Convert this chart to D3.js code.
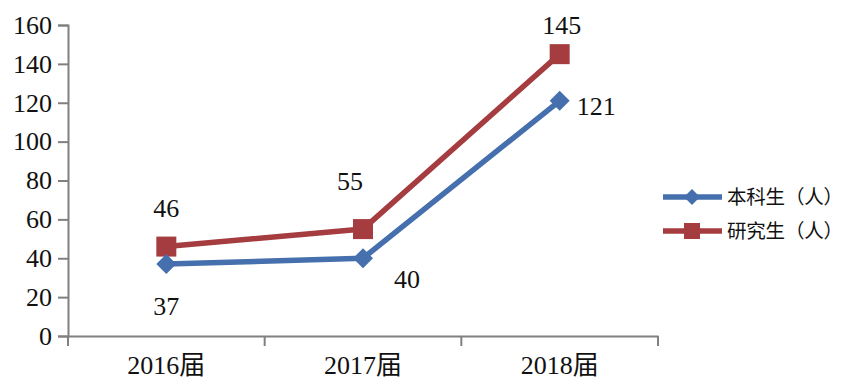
<!DOCTYPE html>
<html><head><meta charset="utf-8">
<script src="https://cdn.jsdelivr.net/npm/d3@7"></script>
<style>body{margin:0;background:#fff}svg{display:block}</style>
</head><body><svg id="c" width="848" height="381"></svg>
<script>
const categories = ["2016届", "2017届", "2018届"];
const undergrad = [37, 40, 121];
const graduate = [46, 55, 145];
const seriesNames = ["本科生（人）", "研究生（人）"];
const yTicks = [0, 20, 40, 60, 80, 100, 120, 140, 160];

const svg = d3.select("#c");
const serif = "'Liberation Serif','Times New Roman','Noto Sans CJK SC',serif";
const axisColor = "#808080";
const blue = "#4570ad", red = "#a53c40";

const x = d3.scaleBand().domain(categories).range([68, 658]);
const y = d3.scaleLinear().domain([0, 160]).range([336, 25]);
const cx = c => x(c) + x.bandwidth() / 2;

// Y axis
const ya = svg.append("g").attr("transform", "translate(68,0)")
  .call(d3.axisLeft(y).tickValues(yTicks).tickSize(10).tickPadding(6));
ya.select(".domain").attr("stroke", axisColor).attr("stroke-width", 2);
ya.selectAll(".tick line").attr("stroke", axisColor).attr("stroke-width", 2);
ya.selectAll(".tick text").attr("font-family", serif).attr("font-size", 26).attr("fill", "#111");

// X axis
const xa = svg.append("g").attr("transform", "translate(0,336)")
  .call(d3.axisBottom(x).tickSize(0).tickPadding(15));
xa.select(".domain").attr("stroke", axisColor).attr("stroke-width", 2);
xa.selectAll(".tick text").attr("font-family", serif).attr("font-size", 26).attr("fill", "#111").attr("dy", "0.9em");
// x band boundary ticks
const bounds = categories.map(c => x(c)).concat([x(categories[categories.length-1]) + x.bandwidth()]);
svg.append("g").selectAll("line").data(bounds).join("line")
  .attr("x1", d => d).attr("x2", d => d).attr("y1", 336).attr("y2", 346)
  .attr("stroke", axisColor).attr("stroke-width", 2);

const line = d3.line().x((d, i) => cx(categories[i])).y(d => y(d));

const diamond = d3.symbol().type(d3.symbolSquare).size(200);
function drawSeries(vals, color, kind) {
  svg.append("path").datum(vals).attr("d", line).attr("fill", "none")
    .attr("stroke", color).attr("stroke-width", 5.5).attr("stroke-linejoin", "round");
  const g = svg.append("g");
  vals.forEach((v, i) => {
    if (kind === "square") {
      g.append("rect").attr("x", cx(categories[i]) - 10).attr("y", y(v) - 10)
        .attr("width", 20).attr("height", 20).attr("fill", color);
    } else {
      g.append("path").attr("d", diamond)
        .attr("transform", `translate(${cx(categories[i])},${y(v)}) rotate(45)`).attr("fill", color);
    }
  });
}
drawSeries(graduate, red, "square");
drawSeries(undergrad, blue, "diamond");

// Data labels (offsets relative to data point)
const labelOffsets = {
  grad: [[0, -30], [-13, -39], [2, -20]],
  under: [[0, 51], [44, 30], [17, 14]]
};
function drawLabels(vals, offs, anchors) {
  vals.forEach((v, i) => {
    svg.append("text").attr("x", cx(categories[i]) + offs[i][0]).attr("y", y(v) + offs[i][1])
      .attr("text-anchor", anchors[i]).attr("font-family", serif).attr("font-size", 26)
      .attr("fill", "#111").text(v);
  });
}
drawLabels(graduate, labelOffsets.grad, ["middle", "middle", "middle"]);
drawLabels(undergrad, labelOffsets.under, ["middle", "middle", "start"]);

// Legend
const legend = svg.append("g");
[[blue, "diamond"], [red, "square"]].forEach(([color, kind], i) => {
  const ly = 197 + i * 34;
  legend.append("line").attr("x1", 663).attr("x2", 722).attr("y1", ly).attr("y2", ly)
    .attr("stroke", color).attr("stroke-width", 5.5);
  if (kind === "square") {
    legend.append("rect").attr("x", 684).attr("y", ly - 8).attr("width", 16).attr("height", 16).attr("fill", color);
  } else {
    legend.append("path").attr("d", d3.symbol().type(d3.symbolSquare).size(130))
      .attr("transform", `translate(692,${ly}) rotate(45)`).attr("fill", color);
  }
  legend.append("text").attr("x", 727).attr("y", ly).attr("dy", "0.36em")
    .attr("font-family", "'Noto Sans CJK SC',sans-serif").attr("font-size", 19.5)
    .attr("textLength", 116).attr("lengthAdjust", "spacing")
    .attr("fill", "#111").text(seriesNames[i]);
});
</script></body></html>
